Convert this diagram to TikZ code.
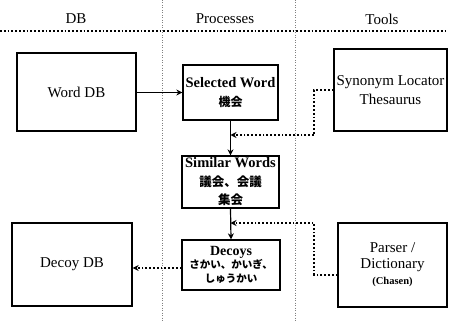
\documentclass[tikz,border=0pt]{standalone}
\usepackage{fontspec}
\setmainfont{Liberation Serif}
\newfontfamily\jp{Noto Sans CJK JP}
\usetikzlibrary{arrows.meta,calc}
\begin{document}
\begin{tikzpicture}[x=1pt,y=-1pt,
  box/.style={draw,line width=1.3pt,rectangle,inner sep=0pt,align=center,font=\fontsize{15}{19}\selectfont},
  procbox/.style={box,font=\bfseries\fontsize{14.5}{19}\selectfont},
  solidarrow/.style={line width=1.2pt,-{Stealth[length=6pt,width=6pt]}},
  dotarrow/.style={line width=1.8pt,dotted,-{Stealth[length=6pt,width=6pt]}},
  divider/.style={gray,line width=0.5pt,dotted},
  header/.style={font=\fontsize{15}{17}\selectfont}]
\useasboundingbox (0,0) rectangle (452,321);
\fill[white] (0,0) rectangle (452,321);

% column headers and separators
\node[header] (hdb) at (76,19) {DB};
\node[header] (hproc) at (225,19) {Processes};
\node[header] (htools) at (382,19) {Tools};
\draw[line width=1.8pt,dotted] (0,31) -- (447,31);
\draw[divider] (162,0) -- (162,321);
\draw[divider] (295,0) -- (295,321);

% boxes
\node[box,minimum width=119pt,minimum height=78pt] (word) at (76.5,92) {Word DB};
\node[procbox,minimum width=95pt,minimum height=55pt] (sel) at (230.5,92.5)
  {Selected Word\\{\jp\bfseries\fontsize{12}{19}\selectfont 機会}};
\node[box,minimum width=113pt,minimum height=82pt] (syn) at (390.5,90)
  {Synonym Locator\\Thesaurus};
\node[procbox,minimum width=97pt,minimum height=52pt] (sim) at (230.5,182)
  {\fontsize{14.5}{17}\selectfont Similar Words\\{\jp\bfseries\fontsize{12.5}{19}\selectfont 議会、会議}\\[-1pt]{\jp\bfseries\fontsize{12.5}{16}\selectfont 集会}};
\node[procbox,minimum width=98pt,minimum height=50pt] (dec) at (231,265)
  {\fontsize{14}{15}\selectfont Decoys\\[-6pt]{\jp\bfseries\fontsize{10.5}{13}\selectfont さかい、かいぎ、}\\[-5pt]{\jp\bfseries\fontsize{10.5}{12}\selectfont しゅうかい}};
\node[box,minimum width=120pt,minimum height=83pt] (ddb) at (72,264.5) {Decoy DB};
\node[box,minimum width=109pt,minimum height=84pt,font=\fontsize{15}{16}\selectfont] (par) at (392.5,265)
  {Parser /\\Dictionary\\{\bfseries\fontsize{10.5}{14}\selectfont (Chasen)}};

% join points on the process chain
\coordinate (j1) at ($(sel.south)!0.5!(sim.north)+(0,-3)$);
\coordinate (j2) at (sim.south |- 0,223);

% connectors
\draw[solidarrow] (word.east |- sel.west) -- (sel.west);
\draw[solidarrow] (sel.south) -- (sim.north);
\draw[solidarrow] (sim.south) -- (dec.north);
\draw[dotarrow] (syn.west) -- ++(-19,0) |- (j1);
\draw[dotarrow] (par.west |- 0,275) -- ++(-23,0) |- (j2);
\draw[dotarrow] (dec.west |- 0,268) -- (ddb.east |- 0,268);
\end{tikzpicture}
\end{document}
